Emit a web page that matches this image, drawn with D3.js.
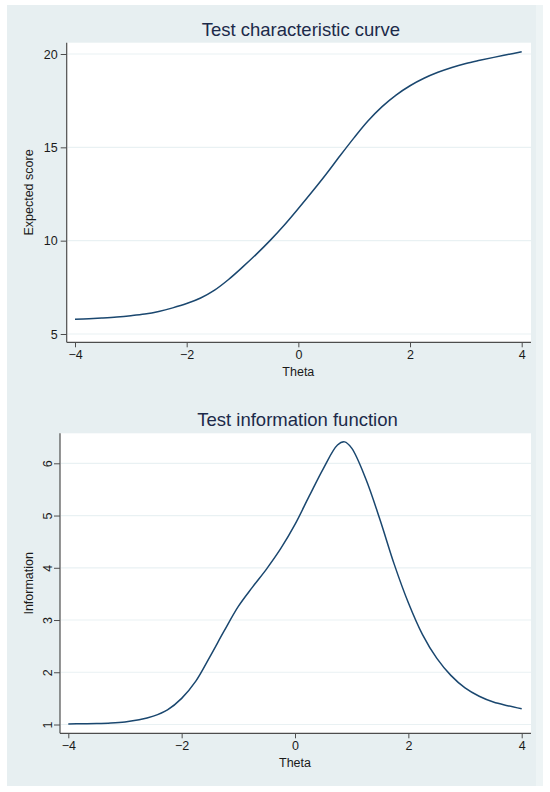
<!DOCTYPE html>
<html>
<head>
<meta charset="utf-8">
<script src="https://cdn.jsdelivr.net/npm/d3@7"></script>
<style>
  body { margin: 0; background: #fff; }
  svg { display: block; font-family: "Liberation Sans", Arial, Helvetica, sans-serif; }
</style>
</head>
<body>
<div class="chart"></div>
<script>
'use strict';

// Test characteristic curve
const thetaTcc = [-4, -3.75, -3.5, -3.25, -3, -2.75, -2.5, -2.25, -2, -1.75, -1.5, -1.25, -1, -0.75, -0.5, -0.25,
  0, 0.25, 0.5, 0.75, 1, 1.25, 1.5, 1.75, 2, 2.25, 2.5, 2.75, 3, 3.25, 3.5, 3.75, 4];
const expectedScore = [5.79, 5.82, 5.86, 5.91, 5.98, 6.07, 6.21, 6.40, 6.63, 6.93, 7.35, 7.92, 8.58, 9.28, 10.03, 10.84,
  11.72, 12.63, 13.57, 14.56, 15.52, 16.42, 17.18, 17.80, 18.30, 18.70, 19.02, 19.28, 19.49, 19.66, 19.82, 19.97, 20.12];

// Test information function
const thetaInfo = [-4, -3.75, -3.5, -3.25, -3, -2.75, -2.5, -2.25, -2, -1.75, -1.5, -1.25, -1, -0.75, -0.5, -0.25,
  0, 0.25, 0.5, 0.75, 0.875, 1, 1.25, 1.5, 1.75, 2, 2.25, 2.5, 2.75, 3, 3.25, 3.5, 3.75, 4];
const information = [1.01, 1.015, 1.02, 1.03, 1.05, 1.09, 1.16, 1.28, 1.50, 1.83, 2.30, 2.79, 3.26, 3.63, 3.98, 4.37,
  4.83, 5.37, 5.90, 6.35, 6.41, 6.29, 5.70, 4.92, 4.07, 3.33, 2.72, 2.27, 1.94, 1.70, 1.54, 1.43, 1.36, 1.30];

const xTicks = [-4, -2, 0, 2, 4];
const tccTicks = [5, 10, 15, 20];
const infoTicks = [1, 2, 3, 4, 5, 6];

const w = 550;
const h = 792;
const bg = '#e7eff1';
const grid = '#e9f1f3';
const lineColor = '#1a476f';
const axisColor = '#4d4d4d';
const titleColor = '#1c2a4a';

const svg = d3.select('.chart')
  .append('svg')
  .attr('width', w)
  .attr('height', h);

svg.append('rect').attr('width', w).attr('height', h).attr('fill', '#fff');
svg.append('rect').attr('x', 7).attr('y', 5).attr('width', 529).attr('height', 781).attr('fill', bg);
svg.append('rect').attr('x', 536).attr('y', 5).attr('width', 7).attr('height', 781).attr('fill', '#eef4f5');

function drawPanel(cfg) {
  const { left, top, right, bottom, xRange, yRange, yDomain, yTicks, xs, ys, title, yTitle, rotateY } = cfg;

  const xScale = d3.scaleLinear().domain([-4, 4]).range(xRange);
  const yScale = d3.scaleLinear().domain(yDomain).range(yRange);

  const g = svg.append('g');

  // plot region
  g.append('rect')
    .attr('x', left).attr('y', top)
    .attr('width', right - left).attr('height', bottom - top)
    .attr('fill', '#fff');

  // gridlines
  g.selectAll('.grid')
    .data(yTicks)
    .enter()
    .append('line')
    .attr('x1', left + 1).attr('x2', right)
    .attr('y1', d => yScale(d)).attr('y2', d => yScale(d))
    .attr('stroke', grid)
    .attr('stroke-width', 1.2);

  // axes
  const yAxis = g.append('g')
    .attr('transform', `translate(${left}, 0)`)
    .call(d3.axisLeft(yScale).tickValues(yTicks).tickFormat(d3.format('d')).tickSize(6).tickPadding(3).tickSizeOuter(0));

  const xAxis = g.append('g')
    .attr('transform', `translate(0, ${bottom})`)
    .call(d3.axisBottom(xScale).tickValues(xTicks).tickFormat(d3.format('d')).tickSize(5).tickPadding(3).tickSizeOuter(0));

  [xAxis, yAxis].forEach(a => {
    a.select('.domain').remove();
    a.selectAll('line').attr('stroke', axisColor);
    a.selectAll('text').attr('fill', '#1a1a1a').attr('font-size', 12.5);
  });

  if (rotateY) {
    yAxis.selectAll('.tick text')
      .attr('x', null).attr('dy', null)
      .attr('text-anchor', 'middle')
      .attr('transform', 'translate(-13, 0) rotate(-90) translate(0, 4.5)');
  }

  g.append('line')
    .attr('x1', left).attr('x2', left).attr('y1', top).attr('y2', bottom)
    .attr('stroke', axisColor).attr('stroke-width', 1.2);
  g.append('line')
    .attr('x1', left).attr('x2', right).attr('y1', bottom).attr('y2', bottom)
    .attr('stroke', axisColor).attr('stroke-width', 1.2);

  // curve
  const line = d3.line()
    .x((d, i) => xScale(xs[i]))
    .y(d => yScale(d))
    .curve(d3.curveCatmullRom.alpha(0.5));

  g.append('path')
    .datum(ys)
    .attr('d', line)
    .attr('fill', 'none')
    .attr('stroke', lineColor)
    .attr('stroke-width', 1.5);

  // titles
  g.append('text')
    .attr('x', (left + right) / 2 + 2).attr('y', top - 7)
    .attr('text-anchor', 'middle')
    .attr('font-size', 18.5)
    .attr('fill', titleColor)
    .text(title);

  g.append('text')
    .attr('x', xScale(0)).attr('y', bottom + 34)
    .attr('text-anchor', 'middle')
    .attr('font-size', 12.5)
    .attr('fill', '#1a1a1a')
    .text('Theta');

  g.append('text')
    .attr('transform', `translate(33, ${(top + bottom) / 2}) rotate(-90)`)
    .attr('text-anchor', 'middle')
    .attr('font-size', 12.5)
    .attr('fill', '#1a1a1a')
    .text(yTitle);
}

drawPanel({
  left: 66.7, top: 42.7, right: 531, bottom: 342.3,
  xRange: [75, 521.7], yRange: [334, 54], yDomain: [5, 20], yTicks: tccTicks,
  xs: thetaTcc, ys: expectedScore,
  title: 'Test characteristic curve', yTitle: 'Expected score', rotateY: false
});

drawPanel({
  left: 60, top: 433.3, right: 531, bottom: 733.3,
  xRange: [68.3, 521.7], yRange: [724.5, 463.3], yDomain: [1, 6], yTicks: infoTicks,
  xs: thetaInfo, ys: information,
  title: 'Test information function', yTitle: 'Information', rotateY: true
});
</script>
</body>
</html>
